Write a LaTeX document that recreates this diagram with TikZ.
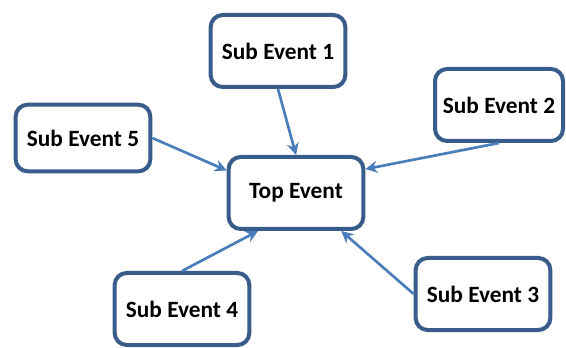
\documentclass[tikz,border=0pt]{standalone}
\usepackage{fontspec}
\setmainfont{Carlito}
\usepackage{tikz}
\usetikzlibrary{positioning}
\usetikzlibrary{arrows.meta}
\definecolor{boxBlue}{RGB}{56,93,138}
\definecolor{arrowBlue}{RGB}{74,126,187}
\tikzset{
    eventBox/.style={
		draw=boxBlue, line width=3pt, rounded corners=9pt, fill=white,
		minimum width=101pt, minimum height=54pt, inner sep=2pt,
		font=\fontsize{17.5}{20}\selectfont\bfseries
	}
}
\tikzset{
    eventArrow/.style={
		draw=arrowBlue, line width=2pt, -{Stealth[length=9pt,width=9pt,inset=3pt]}
	}
}

\begin{document}
\begin{tikzpicture}[x=0.75pt,y=-0.75pt]
			\useasboundingbox (0,0) rectangle (566,348);
			\node[eventBox] (top) at (296,193) {Top Event};
			\node[eventBox] (sub1) at (278,51) {Sub Event 1};
			\node[eventBox, minimum width=96pt] (sub2) at (499,105) {Sub Event 2};
			\node[eventBox] (sub3) at (483,294) {Sub Event 3};
			\node[eventBox] (sub4) at (182,309) {Sub Event 4};
			\node[eventBox, minimum height=50pt] (sub5) at (83,138) {Sub Event 5};
			%arrows into the top event
			\draw[eventArrow] (sub1.south) -- (top.north);
			\draw[eventArrow] (sub2.south) -- (top.19);
			\draw[eventArrow] (sub3.west) -- (top.320);
			\draw[eventArrow] (sub4.north) -- (top.225);
			\draw[eventArrow] (sub5.east) -- (top.162);
		\end{tikzpicture}
\end{document}
